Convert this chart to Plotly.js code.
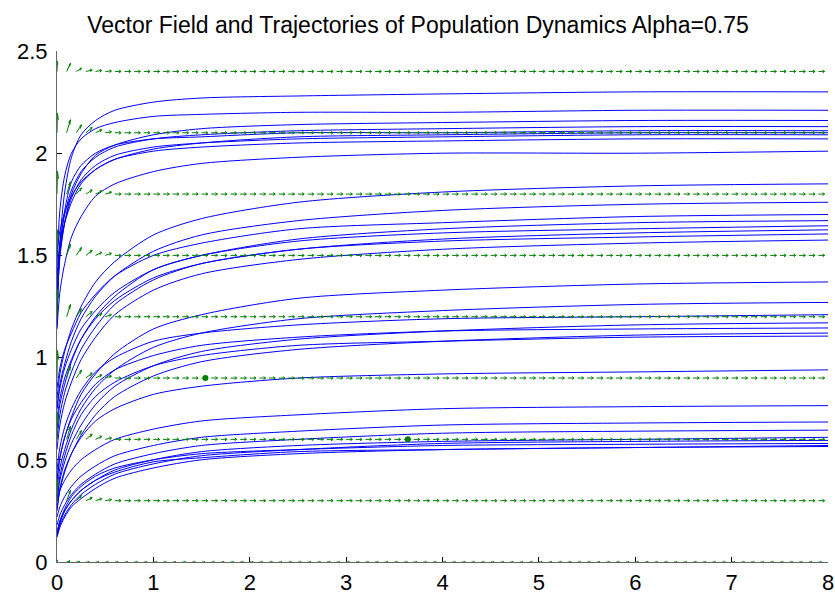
<!DOCTYPE html>
<html><head><meta charset="utf-8">
<script src="https://cdn.plot.ly/plotly-3.0.1.min.js"></script>
<style>html,body{margin:0;padding:0;background:#fff}#chart{width:835px;height:600px}</style>
</head><body><div id="chart"></div>
<script>
// time samples shared by all trajectories
const trajT = [0, 0.03, 0.08, 0.15, 0.25, 0.4, 0.6, 1, 1.5, 2.5, 4, 6, 8];
// top group
const trajA1 = [1.15, 1.56, 1.81, 1.98, 2.09, 2.16, 2.21, 2.25, 2.27, 2.28, 2.29, 2.30, 2.30];
const trajA2 = [1.45, 1.72, 1.89, 2.00, 2.07, 2.12, 2.15, 2.18, 2.19, 2.20, 2.20, 2.21, 2.21];
const trajA3 = [1.25, 1.49, 1.66, 1.80, 1.90, 1.99, 2.04, 2.09, 2.12, 2.14, 2.15, 2.16, 2.16];
const trajA4 = [1.35, 1.56, 1.70, 1.82, 1.91, 1.98, 2.03, 2.07, 2.09, 2.11, 2.12, 2.13, 2.13];
const trajA5 = [1.20, 1.52, 1.72, 1.86, 1.94, 2.00, 2.04, 2.07, 2.08, 2.10, 2.10, 2.11, 2.11];
const trajA6 = [1.40, 1.55, 1.66, 1.76, 1.85, 1.92, 1.97, 2.02, 2.05, 2.08, 2.09, 2.10, 2.10];
const trajA7 = [1.30, 1.51, 1.66, 1.78, 1.87, 1.94, 1.99, 2.03, 2.05, 2.07, 2.08, 2.09, 2.09];
const trajA8 = [1.50, 1.62, 1.71, 1.79, 1.86, 1.92, 1.97, 2.01, 2.03, 2.05, 2.06, 2.07, 2.07];
const trajA9 = [1.14, 1.32, 1.46, 1.59, 1.69, 1.79, 1.85, 1.91, 1.95, 1.98, 2.00, 2.00, 2.01];
// second group
const trajB1 = [0.80, 0.92, 1.03, 1.14, 1.25, 1.37, 1.47, 1.60, 1.68, 1.76, 1.81, 1.84, 1.85];
const trajB2 = [0.75, 0.87, 0.97, 1.08, 1.19, 1.30, 1.40, 1.52, 1.60, 1.67, 1.72, 1.75, 1.76];
const trajB3 = [0.85, 0.95, 1.04, 1.12, 1.22, 1.31, 1.40, 1.50, 1.56, 1.63, 1.66, 1.69, 1.70];
const trajB4 = [0.65, 0.77, 0.87, 0.98, 1.09, 1.20, 1.30, 1.43, 1.50, 1.58, 1.63, 1.66, 1.67];
const trajB5 = [0.75, 0.85, 0.95, 1.04, 1.14, 1.23, 1.32, 1.43, 1.50, 1.57, 1.61, 1.63, 1.645];
const trajB6 = [0.60, 0.72, 0.83, 0.93, 1.04, 1.15, 1.26, 1.38, 1.46, 1.53, 1.58, 1.61, 1.625];
const trajB7 = [0.70, 0.80, 0.90, 0.99, 1.09, 1.19, 1.28, 1.39, 1.46, 1.53, 1.57, 1.59, 1.605];
const trajB8 = [0.55, 0.67, 0.78, 0.88, 0.99, 1.10, 1.21, 1.33, 1.41, 1.48, 1.53, 1.56, 1.575];
// third group
const trajC1 = [0.40, 0.51, 0.61, 0.71, 0.82, 0.92, 1.02, 1.14, 1.21, 1.29, 1.33, 1.36, 1.37];
const trajC2 = [0.35, 0.46, 0.55, 0.65, 0.75, 0.85, 0.94, 1.05, 1.12, 1.19, 1.23, 1.26, 1.27];
const trajC3 = [0.45, 0.56, 0.66, 0.75, 0.84, 0.93, 1.00, 1.08, 1.12, 1.16, 1.19, 1.20, 1.21];
const trajC4 = [0.30, 0.40, 0.49, 0.58, 0.67, 0.77, 0.86, 0.96, 1.03, 1.09, 1.13, 1.16, 1.17];
const trajC5 = [0.40, 0.51, 0.61, 0.70, 0.78, 0.87, 0.94, 1.01, 1.06, 1.10, 1.13, 1.14, 1.145];
const trajC6 = [0.25, 0.35, 0.44, 0.53, 0.62, 0.72, 0.81, 0.91, 0.98, 1.04, 1.08, 1.11, 1.12];
const trajC7 = [0.30, 0.42, 0.52, 0.62, 0.72, 0.81, 0.88, 0.96, 1.01, 1.06, 1.08, 1.10, 1.105];
// single curve near 0.94
const trajD1 = [0.26, 0.36, 0.45, 0.53, 0.61, 0.69, 0.75, 0.82, 0.86, 0.90, 0.92, 0.93, 0.94];
// bottom group
const trajE1 = [0.30, 0.35, 0.40, 0.45, 0.50, 0.55, 0.60, 0.65, 0.69, 0.72, 0.75, 0.76, 0.765];
const trajE2 = [0.22, 0.27, 0.32, 0.37, 0.42, 0.47, 0.52, 0.57, 0.61, 0.64, 0.67, 0.68, 0.685];
const trajE3 = [0.18, 0.23, 0.28, 0.33, 0.38, 0.43, 0.48, 0.53, 0.57, 0.60, 0.63, 0.64, 0.645];
const trajE4 = [0.15, 0.20, 0.25, 0.30, 0.35, 0.40, 0.45, 0.50, 0.54, 0.57, 0.59, 0.60, 0.61];
const trajE5 = [0.13, 0.18, 0.23, 0.28, 0.33, 0.38, 0.43, 0.48, 0.52, 0.55, 0.58, 0.59, 0.595];
const trajE6 = [0.14, 0.20, 0.26, 0.32, 0.37, 0.42, 0.46, 0.50, 0.53, 0.55, 0.57, 0.576, 0.58];
const trajE7 = [0.12, 0.17, 0.22, 0.27, 0.31, 0.36, 0.41, 0.46, 0.50, 0.53, 0.55, 0.56, 0.57];
const trajE8 = [0.13, 0.19, 0.25, 0.30, 0.35, 0.40, 0.44, 0.49, 0.51, 0.54, 0.55, 0.56, 0.565];

const trajectories = [trajA1, trajA2, trajA3, trajA4, trajA5, trajA6, trajA7, trajA8, trajA9,
  trajB1, trajB2, trajB3, trajB4, trajB5, trajB6, trajB7, trajB8,
  trajC1, trajC2, trajC3, trajC4, trajC5, trajC6, trajC7, trajD1,
  trajE1, trajE2, trajE3, trajE4, trajE5, trajE6, trajE7, trajE8];

// vector field grid
const quiverRows = [0, 0.3, 0.6, 0.9, 1.2, 1.5, 1.8, 2.1, 2.4];
const quiverCols = [0,0.1,0.2,0.3,0.4,0.5,0.6,0.7,0.8,0.9,1,1.1,1.2,1.3,1.4,1.5,1.6,1.7,1.8,1.9,
  2,2.1,2.2,2.3,2.4,2.5,2.6,2.7,2.8,2.9,3,3.1,3.2,3.3,3.4,3.5,3.6,3.7,3.8,3.9,
  4,4.1,4.2,4.3,4.4,4.5,4.6,4.7,4.8,4.9,5,5.1,5.2,5.3,5.4,5.5,5.6,5.7,5.8,5.9,
  6,6.1,6.2,6.3,6.4,6.5,6.6,6.7,6.8,6.9,7,7.1,7.2,7.3,7.4,7.5,7.6,7.7,7.8,7.9,8];
// vertical arrow components for the first columns of each row (rest are flat)
const arrowRiseNearAxis = [
  [0.010, 0.005, 0.002, 0, 0, 0],
  [0.105, 0.050, 0.025, 0.015, 0.010, 0.005],
  [0.130, 0.064, 0.044, 0.025, 0.015, 0.007],
  [0.135, 0.060, 0.039, 0.025, 0.015, 0.010],
  [0.135, 0.060, 0.039, 0.025, 0.015, 0.010],
  [0.125, 0.055, 0.039, 0.025, 0.015, 0.010],
  [0.112, 0.060, 0.030, 0.020, 0.015, 0.010],
  [0.095, 0.064, 0.039, 0.025, 0.015, 0.005],
  [0.050, 0.040, 0.015, 0.007, 0.005, 0.002]
];
const arrowRunNearAxis = [0.005, 0.04, 0.055, 0.065, 0.07, 0.07];
const arrowRunFarByRow = [0.035, 0.065, 0.065, 0.065, 0.065, 0.065, 0.065, 0.065, 0.065];

const equilibriumX = [1.54, 3.64];
const equilibriumY = [0.90, 0.60];

// build trajectory polyline
const lx = [], ly = [];
trajectories.forEach(c => {
  trajT.forEach((t, i) => { lx.push(t); ly.push(c[i]); });
  lx.push(null); ly.push(null);
});

// build quiver (MATLAB-style arrowheads)
const qx = [], qy = [];
const ha = 0.33, hb = 0.33;
quiverRows.forEach((ry, r) => {
  quiverCols.forEach((cx, c) => {
    const u = c < arrowRunNearAxis.length ? Math.min(arrowRunNearAxis[c], arrowRunFarByRow[r]) : arrowRunFarByRow[r];
    const v = c < arrowRiseNearAxis[r].length ? arrowRiseNearAxis[r][c] : 0;
    const tx = cx + u, ty = ry + v;
    qx.push(cx, tx, null, tx - ha * (u + hb * v), tx, tx - ha * (u - hb * v), null);
    qy.push(ry, ty, null, ty - ha * (v - hb * u), ty, ty - ha * (v + hb * u), null);
  });
});

const traces = [
  {x: lx, y: ly, type: 'scatter', mode: 'lines', line: {color: '#0000ff', width: 1, shape: 'spline', smoothing: 0.8}, hoverinfo: 'skip'},
  {x: qx, y: qy, type: 'scatter', mode: 'lines', line: {color: '#008000', width: 1}, hoverinfo: 'skip'},
  {x: equilibriumX, y: equilibriumY, type: 'scatter', mode: 'markers', marker: {color: '#008000', size: 6}, hoverinfo: 'skip'}
];

const fontFam = '"Liberation Sans", Arial, Helvetica, sans-serif';
const layout = {
  width: 835, height: 600,
  margin: {l: 57, r: 7, t: 51, b: 38, pad: 0},
  paper_bgcolor: '#ffffff', plot_bgcolor: '#ffffff',
  showlegend: false,
  font: {family: fontFam, size: 22, color: '#000'},
  title: {text: 'Vector Field and Trajectories of Population Dynamics Alpha=0.75',
    font: {family: fontFam, size: 23, color: '#000'},
    x: 418 / 835, xanchor: 'center', xref: 'container',
    y: 1 - 25 / 600, yanchor: 'middle', yref: 'container'},
  xaxis: {range: [0, 8], tickvals: [0,1,2,3,4,5,6,7,8], ticktext: ['0','1','2','3','4','5','6','7','8'],
    ticks: 'inside', ticklen: 5, tickcolor: '#000', tickwidth: 1, ticklabelstandoff: 1,
    showline: true, linecolor: '#666', linewidth: 1, showgrid: false, zeroline: false,
    layer: 'below traces', fixedrange: true},
  yaxis: {range: [0, 2.5], tickvals: [0,0.5,1,1.5,2,2.5], ticktext: ['0','0.5','1','1.5','2','2.5'],
    ticks: 'inside', ticklen: 5, tickcolor: '#000', tickwidth: 1, ticklabelstandoff: 4,
    showline: true, linecolor: '#666', linewidth: 1, showgrid: false, zeroline: false,
    layer: 'below traces', fixedrange: true}
};

Plotly.newPlot('chart', traces, layout, {displayModeBar: false, staticPlot: true});
</script>
</body></html>
